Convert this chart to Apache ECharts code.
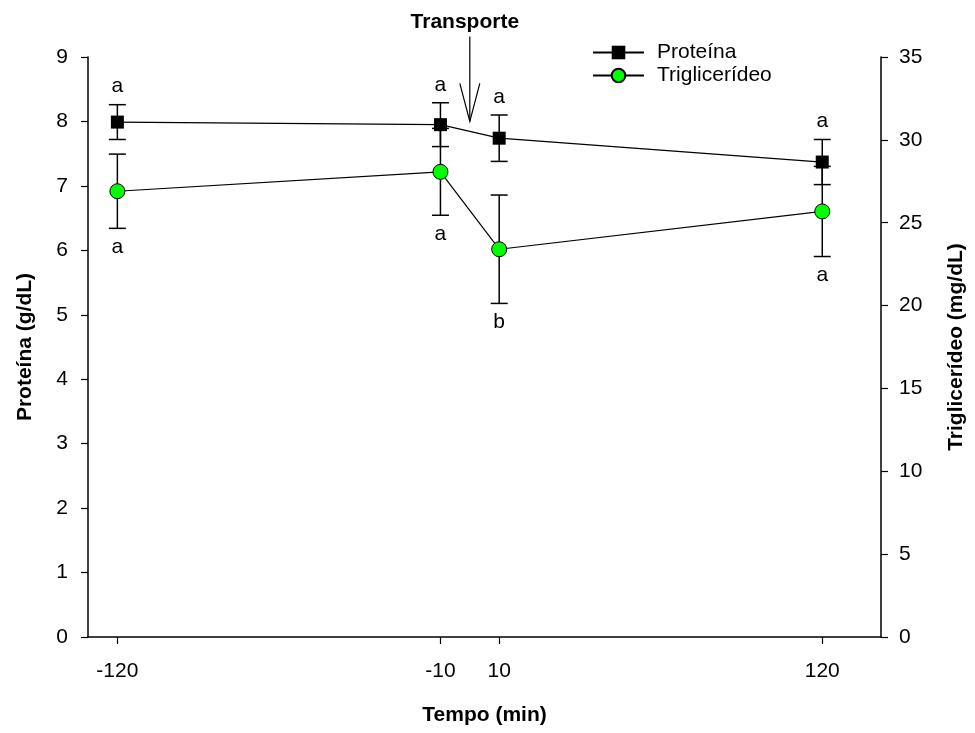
<!DOCTYPE html>
<html>
<head>
<meta charset="utf-8">
<script src="https://cdn.jsdelivr.net/npm/echarts@6/dist/echarts.min.js"></script>
<style>
html, body { margin: 0; background: #fff; }
#chart { width: 975px; height: 733px; }
</style>
</head>
<body>
<div id="chart"></div>
<script>
// dados
var tempo = [-120, -10, 10, 120];
var proteina = [7.99, 7.95, 7.74, 7.37];
var proteinaErr = [0.27, 0.34, 0.36, 0.35];
var trig = [26.9, 28.07, 23.4, 25.68];
var trigErr = [2.24, 2.62, 3.27, 2.72];
var proteinaLetras = ['a', 'a', 'a', 'a'];
var trigLetras = ['a', 'a', 'b', 'a'];
var xTicks = [-120, -10, 10, 120];
var transporte = [0, 8.0];

var fonte = "'Liberation Sans', Arial, sans-serif";

function pares(xs, ys) {
  return xs.map(function (x, i) { return [x, ys[i]]; });
}
function comErro(xs, ys, es) {
  return xs.map(function (x, i) { return [x, ys[i], es[i]]; });
}

function barraErro(letras, acima) {
  return function (params, api) {
    var x = api.value(0), y = api.value(1), e = api.value(2);
    var hi = api.coord([x, y + e]);
    var lo = api.coord([x, y - e]);
    var w = 8.5;
    var st = { stroke: '#000', lineWidth: 1.5 };
    return {
      type: 'group',
      children: [
        { type: 'line', shape: { x1: hi[0], y1: hi[1], x2: lo[0], y2: lo[1] }, style: st },
        { type: 'line', shape: { x1: hi[0] - w, y1: hi[1], x2: hi[0] + w, y2: hi[1] }, style: st },
        { type: 'line', shape: { x1: lo[0] - w, y1: lo[1], x2: lo[0] + w, y2: lo[1] }, style: st },
        {
          type: 'text',
          x: hi[0],
          y: acima ? hi[1] - 18 : lo[1] + 19,
          style: {
            text: letras[params.dataIndex],
            fill: '#000',
            font: '21px ' + fonte,
            align: 'center',
            verticalAlign: 'middle'
          }
        }
      ]
    };
  };
}

function seta(params, api) {
  var p = api.coord([api.value(0), api.value(1)]);
  var st = { stroke: '#000', lineWidth: 1.2, fill: null };
  return {
    type: 'group',
    children: [
      { type: 'line', shape: { x1: p[0], y1: p[1], x2: p[0], y2: p[1] - 85 }, style: st },
      { type: 'polyline', shape: { points: [[p[0] - 10, p[1] - 38], [p[0], p[1]], [p[0] + 10, p[1] - 38]] }, style: st },
      {
        type: 'text',
        x: p[0] - 5,
        y: p[1] - 99,
        style: {
          text: 'Transporte',
          fill: '#000',
          font: 'bold 21px ' + fonte,
          align: 'center',
          verticalAlign: 'middle'
        }
      }
    ]
  };
}

var chart = echarts.init(document.getElementById('chart'));
chart.setOption({
  animation: false,
  backgroundColor: '#fff',
  textStyle: { fontFamily: fonte },
  grid: { left: 88, right: 92, top: 57, bottom: 96 },
  legend: {
    data: ['Proteína', 'Triglicerídeo'],
    orient: 'vertical',
    left: 592,
    top: 42,
    padding: 0,
    itemWidth: 51,
    itemHeight: 17,
    itemGap: 2,
    textStyle: { fontSize: 21, color: '#000', fontFamily: fonte, padding: [0, 0, 0, 8] }
  },
  xAxis: {
    type: 'value',
    min: -130,
    max: 140,
    name: 'Tempo (min)',
    nameLocation: 'middle',
    nameGap: 68,
    nameTextStyle: { fontSize: 21, fontWeight: 'bold', color: '#000' },
    axisLine: { show: true, onZero: false, lineStyle: { color: '#000', width: 1.5 } },
    axisTick: { show: true, length: 7, customValues: xTicks, lineStyle: { color: '#000', width: 1.2 } },
    axisLabel: { customValues: xTicks, margin: 24, fontSize: 21, color: '#000' },
    splitLine: { show: false }
  },
  yAxis: [
    {
      type: 'value',
      min: 0,
      max: 9,
      interval: 1,
      position: 'left',
      name: 'Proteína (g/dL)',
      nameLocation: 'middle',
      nameRotate: 90,
      nameGap: 52,
      nameTextStyle: { fontSize: 21, fontWeight: 'bold', color: '#000' },
      axisLine: { show: true, onZero: false, lineStyle: { color: '#000', width: 1.5 } },
      axisTick: { show: true, length: 7, lineStyle: { color: '#000', width: 1.2 } },
      axisLabel: { margin: 20, fontSize: 21, color: '#000' },
      splitLine: { show: false }
    },
    {
      type: 'value',
      min: 0,
      max: 35,
      interval: 5,
      position: 'right',
      name: 'Triglicerídeo (mg/dL)',
      nameLocation: 'middle',
      nameRotate: 90,
      nameGap: 65,
      nameTextStyle: { fontSize: 21, fontWeight: 'bold', color: '#000' },
      axisLine: { show: true, onZero: false, lineStyle: { color: '#000', width: 1.5 } },
      axisTick: { show: true, length: 7, lineStyle: { color: '#000', width: 1.2 } },
      axisLabel: { margin: 18, fontSize: 21, color: '#000' },
      splitLine: { show: false }
    }
  ],
  series: [
    {
      name: 'erroTrig',
      type: 'custom',
      yAxisIndex: 1,
      z: 2,
      renderItem: barraErro(trigLetras, false),
      data: comErro(tempo, trig, trigErr)
    },
    {
      name: 'erroProteina',
      type: 'custom',
      yAxisIndex: 0,
      z: 2,
      renderItem: barraErro(proteinaLetras, true),
      data: comErro(tempo, proteina, proteinaErr)
    },
    {
      name: 'Triglicerídeo',
      type: 'line',
      yAxisIndex: 1,
      z: 3,
      symbol: 'circle',
      symbolSize: 15,
      itemStyle: { color: '#00ff00', borderColor: '#000', borderWidth: 1 },
      lineStyle: { color: '#000', width: 1.2 },
      data: pares(tempo, trig)
    },
    {
      name: 'Proteína',
      type: 'line',
      yAxisIndex: 0,
      z: 4,
      symbol: 'rect',
      symbolSize: 13,
      itemStyle: { color: '#000' },
      lineStyle: { color: '#000', width: 1.2 },
      data: pares(tempo, proteina)
    },
    {
      name: 'seta',
      type: 'custom',
      yAxisIndex: 0,
      z: 5,
      clip: false,
      renderItem: seta,
      data: [transporte]
    }
  ]
});
</script>
</body>
</html>
